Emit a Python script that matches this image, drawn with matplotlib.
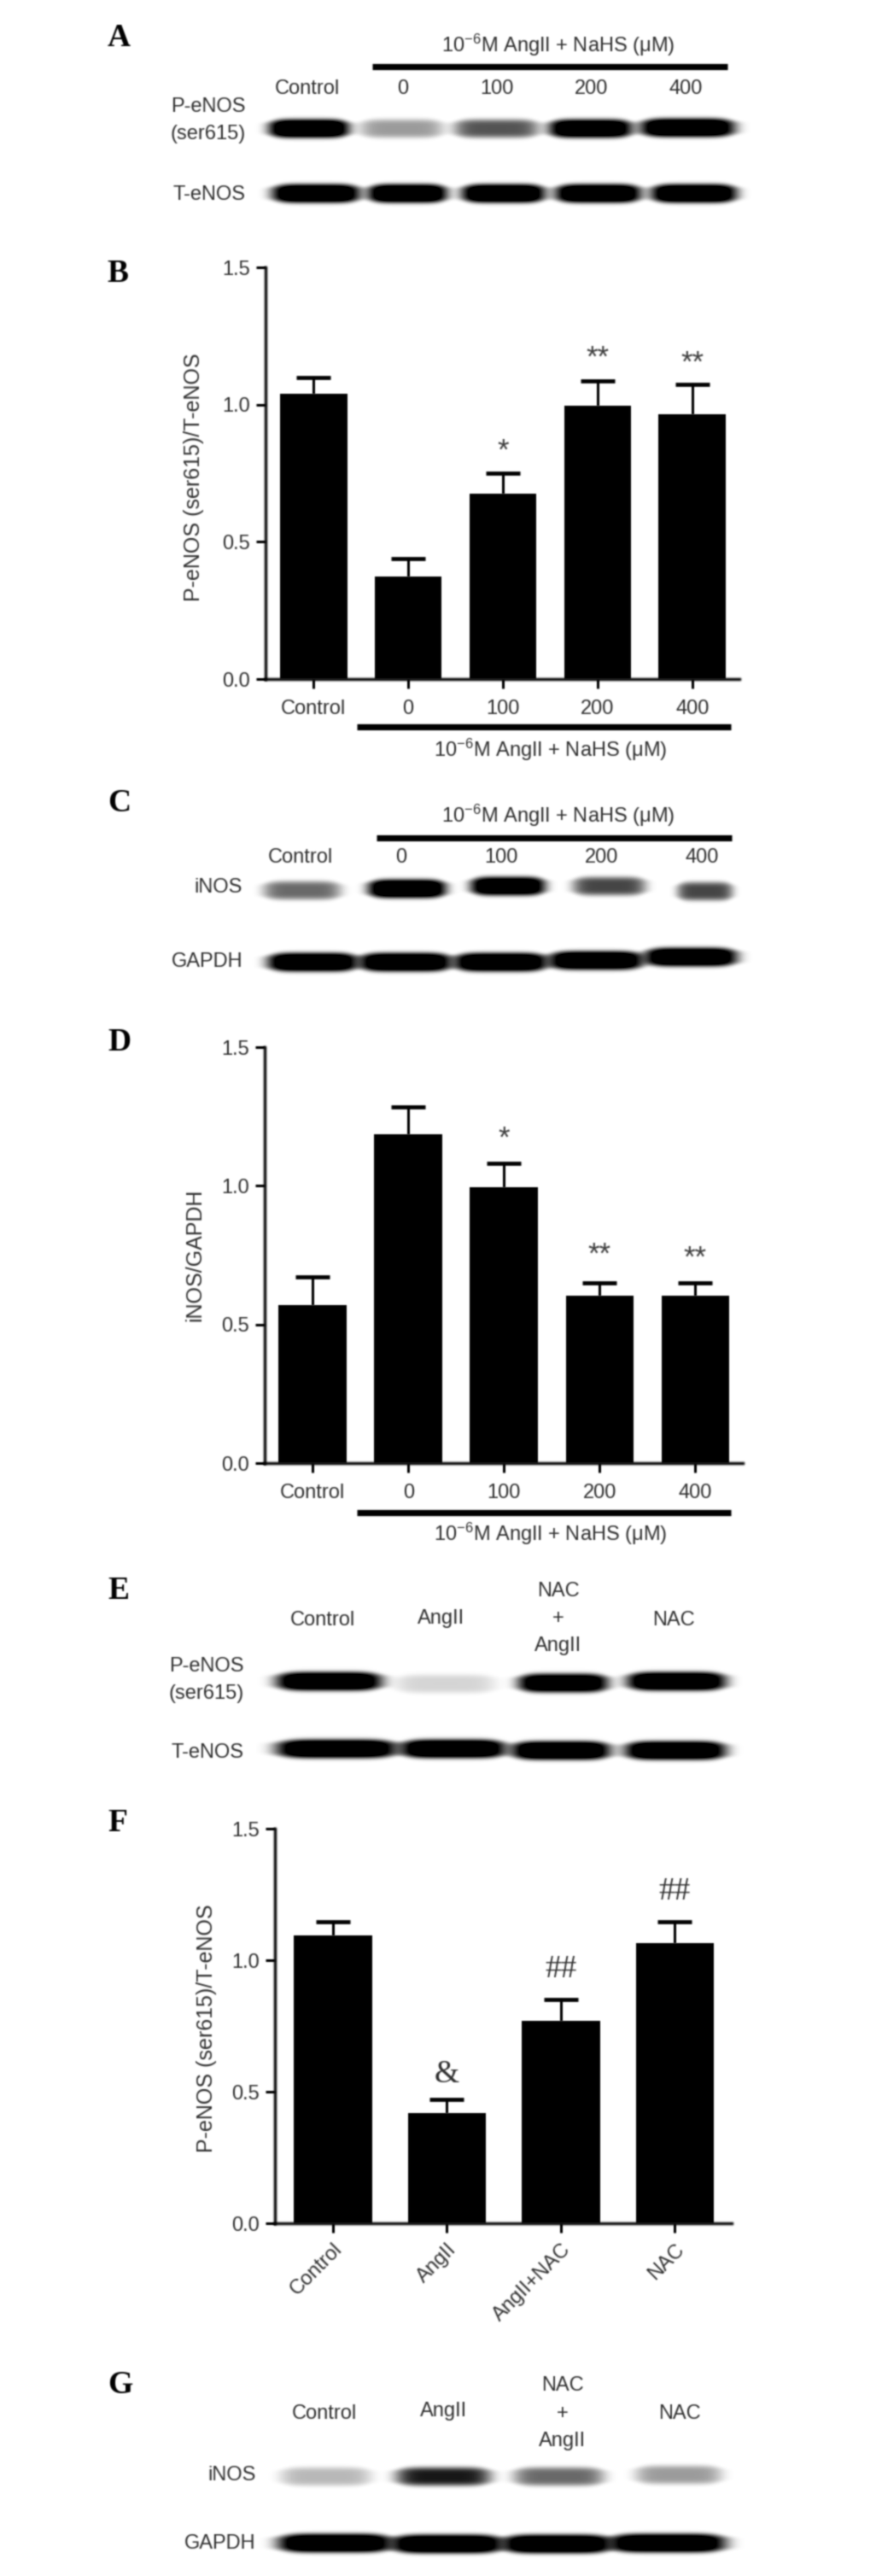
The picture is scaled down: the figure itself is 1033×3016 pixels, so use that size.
import numpy as np
import matplotlib
matplotlib.use("Agg")
import matplotlib.pyplot as plt
from matplotlib.text import Text
from matplotlib.lines import Line2D
from matplotlib.patches import Patch
from matplotlib.collections import LineCollection

W, H = 1033, 3016
plt.rcParams['font.family'] = ['Liberation Sans', 'DejaVu Sans']
plt.rcParams['mathtext.fontset'] = 'custom'
plt.rcParams['mathtext.rm'] = 'Liberation Sans'
plt.rcParams['mathtext.default'] = 'regular'

TXT = '#303030'
DOSE_LABELS = ['Control', '0', '100', '200', '400']
NAC_LABELS = ['Control', 'AngII', 'AngII+NAC', 'NAC']
TREAT = '10$^{-6}$M AngII + NaHS (μM)'

# bar values and upper error limits
b_values = [1.04, 0.375, 0.675, 0.995, 0.965]
b_upper = [1.10, 0.44, 0.75, 1.085, 1.075]
b_marks = ['', '', '*', '**', '**']
b_mark_y = [0, 0, 0.83, 1.17, 1.15]

d_values = [0.57, 1.185, 0.995, 0.605, 0.605]
d_upper = [0.67, 1.285, 1.08, 0.65, 0.65]
d_marks = ['', '', '*', '**', '**']
d_mark_y = [0, 0, 1.17, 0.75, 0.74]

f_values = [1.095, 0.42, 0.77, 1.065]
f_upper = [1.145, 0.47, 0.85, 1.145]
f_marks = ['', '&', '##', '##']
f_mark_y = [0, 0.565, 0.965, 1.26]

# relative band darkness of the blots
a_peNOS = [1.0, 0.28, 0.48, 0.95, 1.0]
a_teNOS = [1.0, 1.0, 1.0, 1.0, 1.0]
c_iNOS = [0.42, 1.0, 0.95, 0.52, 0.52]
c_gapdh = [1.0, 1.0, 1.0, 1.0, 1.0]
e_peNOS = [1.0, 0.12, 0.95, 1.0]
e_teNOS = [1.0, 1.0, 1.0, 1.0]
g_iNOS = [0.2, 0.65, 0.42, 0.28]
g_gapdh = [1.0, 1.0, 1.0, 1.0]

fig = plt.figure(figsize=(W / 100, H / 100), dpi=100, facecolor='white')
ov = fig.add_axes([0, 0, 1, 1], facecolor='none')
ov.axis('off')


def zx(v):
    return 80 + v / 1.96


def t(x, y, s, size=17, ha='center', va='center', **kw):
    kw.setdefault('color', TXT)
    ov.text(x, y, s, fontsize=size, ha=ha, va=va, **kw)


def letter(y, s):
    ov.text(zx(90), y, s, fontsize=27, family='Liberation Serif', weight='bold',
            ha='left', va='center', color='black')


def rule(x0, x1, y):
    ov.plot([x0, x1], [y, y], color='black', lw=5.2, solid_capstyle='butt')


def blot(levels, spans, ys, h):
    """levels: band darkness; spans: lane extents in zoomed px."""
    x0, x1 = zx(spans[0][0]) - 25, zx(spans[-1][1]) + 25
    y0, y1 = min(ys) - 35, max(ys) + 35
    xs = np.arange(x0, x1, 1.0)
    yy = np.arange(y0, y1, 1.0)
    X, Y = np.meshgrid(xs, yy)
    light = np.ones_like(X)
    for lev, sp, yc in zip(levels, spans, ys):
        xc = (zx(sp[0]) + zx(sp[1])) / 2
        hw = (zx(sp[1]) - zx(sp[0])) / 2 + 2
        prof = np.exp(-np.abs((X - xc) / hw) ** 6)
        band = np.exp(-((Y - yc) / (h * (0.62 + 0.38 * prof))) ** 4)
        d = np.clip(lev * 1.4 * prof * band, 0, 1)
        light *= 1 - d
    ov.imshow(light, cmap='gray', vmin=0, vmax=1, extent=(x0, x1, y1, y0),
              aspect='auto', interpolation='bilinear', zorder=0)


def bars(top, bot, left, right, pos_w, vals, upper, marks, mark_y, labels, ylabel,
         lab_x, lab_dy=0, mark_font=None, rot=False):
    ax = fig.add_axes([left / W, 1 - bot / H, (right - left) / W, (bot - top) / H],
                      facecolor='none')
    x = np.arange(len(vals))
    err = np.array(upper) - np.array(vals)
    ax.bar(x, vals, width=pos_w, color='black', zorder=2)
    _, caps, _ = ax.errorbar(x, vals, yerr=[np.zeros_like(err), err], fmt='none',
                             ecolor='black', elinewidth=2.2, capsize=14.5,
                             capthick=3.4, zorder=1)
    caps[0].set_visible(False)
    ax.set_xlim(-0.505, len(vals) - 0.505)
    ax.set_ylim(0, 1.5)
    ax.set_yticks([0, 0.5, 1.0, 1.5])
    ax.set_yticklabels(['0.0', '0.5', '1.0', '1.5'], fontsize=17, color=TXT)
    ax.set_xticks(x)
    if rot:
        ax.set_xticklabels(labels, fontsize=17, color=TXT, rotation=45, ha='right',
                           rotation_mode='anchor')
    else:
        ax.set_xticklabels(labels, fontsize=17, color=TXT)
    ax.tick_params(length=8, width=2.2, color='black')
    ax.tick_params(axis='x', pad=9 if not rot else 6)
    ax.tick_params(axis='y', pad=5)
    for s in ('top', 'right'):
        ax.spines[s].set_visible(False)
    for s in ('left', 'bottom'):
        ax.spines[s].set_linewidth(2.4)
    for xi, m, my in zip(x, marks, mark_y):
        if m:
            if mark_font:
                ax.text(xi, my, m, ha='center', va='center', color='#303030',
                        fontsize=mark_font, family='Liberation Serif')
            else:
                ax.text(xi, my, m, ha='center', va='center', color='#404040',
                        fontsize=25)
    fig.text(lab_x / W, 1 - ((top + bot) / 2 + lab_dy) / H, ylabel, rotation=90,
             fontsize=18, color=TXT, ha='center', va='center')
    return ax


# Panel A
letter(45, 'A')
t(zx(1125), 53, TREAT)
rule(zx(697), zx(1513), 78)
for lab, zv in zip(DOSE_LABELS, [549, 767, 983, 1201, 1417]):
    t(zx(zv), 104, lab)
t(zx(407), 125, 'P-eNOS', ha='right')
t(zx(407), 157, '(ser615)', ha='right')
t(zx(407), 228, 'T-eNOS', ha='right')
blot(a_peNOS, [(462, 640), (672, 855), (888, 1075), (1105, 1290), (1315, 1525)],
     [150, 150, 150, 150, 149], 11)
blot(a_teNOS, [(470, 665), (690, 865), (905, 1090), (1120, 1310), (1340, 1530)],
     [226] * 5, 11)

# Panel B
letter(320, 'B')
bars(313, 795, zx(453), zx(1540), 0.71, b_values, b_upper, b_marks, b_mark_y,
     DOSE_LABELS, 'P-eNOS (ser615)/T-eNOS', zx(289), lab_dy=5)
rule(zx(663), zx(1520), 851)
t(zx(1107), 878, TREAT)

# Panel C
letter(940, 'C')
t(zx(1125), 955, TREAT)
rule(zx(708), zx(1523), 981)
for lab, zv in zip(DOSE_LABELS, [533, 763, 994, 1225, 1454]):
    t(zx(zv), 1004, lab)
t(zx(400), 1039, 'iNOS', ha='right')
t(zx(400), 1126, 'GAPDH', ha='right')
blot(c_iNOS, [(450, 620), (690, 862), (925, 1090), (1160, 1320), (1400, 1520)],
     [1042, 1040, 1037, 1037, 1043], 11)
blot(c_gapdh, [(460, 660), (670, 875), (888, 1095), (1105, 1315), (1325, 1530)],
     [1126, 1126, 1126, 1124, 1120], 11)

# Panel D
letter(1220, 'D')
bars(1226, 1713, zx(450), zx(1548), 0.71, d_values, d_upper, d_marks, d_mark_y,
     DOSE_LABELS, 'iNOS/GAPDH', zx(290))
rule(zx(663), zx(1520), 1771)
t(zx(1107), 1796, TREAT)

# Panel E
letter(1863, 'E')
for lab, zv, y in [('Control', 583, 1897), ('AngII', 855, 1895), ('NAC', 1124, 1863),
                   ('+', 1124, 1895), ('AngII', 1124, 1927), ('NAC', 1390, 1897)]:
    t(zx(zv), y, lab)
t(zx(403), 1951, 'P-eNOS', ha='right')
t(zx(403), 1983, '(ser615)', ha='right')
t(zx(403), 2052, 'T-eNOS', ha='right')
blot(e_peNOS, [(480, 715), (755, 975), (1035, 1235), (1285, 1505)],
     [1968, 1971, 1970, 1968], 11)
blot(e_teNOS, [(480, 750), (765, 1000), (1020, 1240), (1280, 1505)],
     [2047, 2047, 2049, 2049], 11)

# Panel F
letter(2134, 'F')
bars(2141, 2603, zx(475), zx(1522), 0.685, f_values, f_upper, f_marks, f_mark_y,
     NAC_LABELS, 'P-eNOS (ser615)/T-eNOS', zx(318), lab_dy=3, mark_font=27, rot=True)

# Panel G
letter(2793, 'G')
for lab, zv, y in [('Control', 587, 2826), ('AngII', 862, 2823), ('NAC', 1134, 2793),
                   ('+', 1134, 2826), ('AngII', 1134, 2858), ('NAC', 1403, 2826)]:
    t(zx(zv), y, lab)
t(zx(430), 2898, 'iNOS', ha='right')
t(zx(430), 2978, 'GAPDH', ha='right')
blot(g_iNOS, [(490, 690), (755, 965), (1025, 1225), (1305, 1495)],
     [2899, 2899, 2899, 2897], 11)
blot(g_gapdh, [(485, 740), (745, 995), (1000, 1245), (1245, 1505)],
     [2977, 2978, 2978, 2977], 11)

ov.set_xlim(0, W)
ov.set_ylim(H, 0)


# the reference is a soft scan: blur the alpha of drawn artists slightly
KERNEL = np.exp(-0.5 * (np.arange(-3, 4) / 0.8) ** 2)
KERNEL /= KERNEL.sum()


def soften(img, dpi):
    pad = 4
    rgb = img[..., :3]
    alpha = img[..., 3]
    colour = rgb[alpha > 0.5].mean(axis=0) if (alpha > 0.5).any() else np.zeros(3)
    a = np.pad(alpha, pad)
    a = np.apply_along_axis(lambda v: np.convolve(v, KERNEL, mode='same'), 0, a)
    a = np.apply_along_axis(lambda v: np.convolve(v, KERNEL, mode='same'), 1, a)
    out = np.zeros(a.shape + (4,))
    out[..., :3] = colour
    out[..., 3] = a
    return out, -pad, -pad


for art in fig.findobj(lambda o: isinstance(o, (Text, Line2D, Patch, LineCollection))):
    if art is fig.patch or any(art is a.patch for a in fig.axes):
        continue
    art.set_agg_filter(soften)

fig.savefig('out.png', dpi=100, facecolor='white')
